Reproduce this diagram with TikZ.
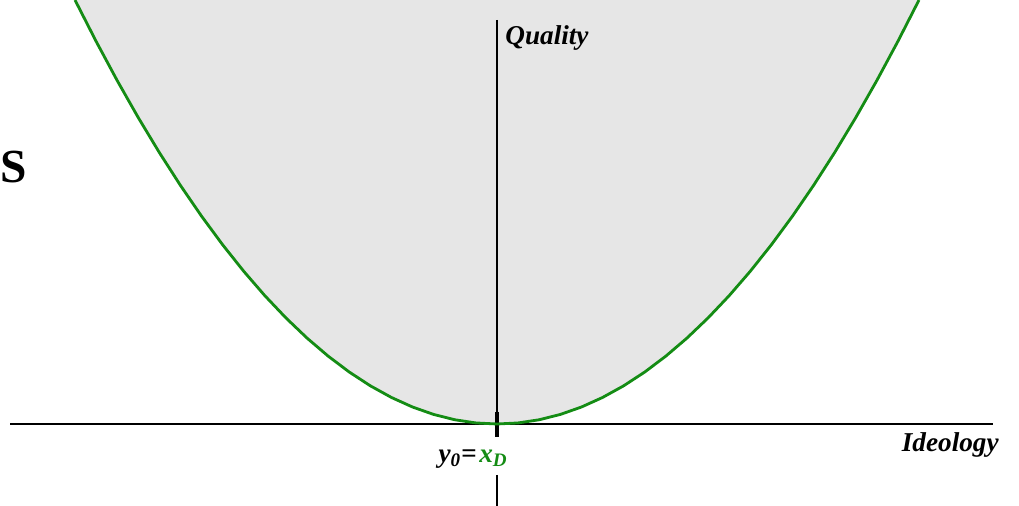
\documentclass[tikz,border=0pt]{standalone}
\usepackage{fontspec}
\setmainfont{Liberation Serif}
\definecolor{curvegreen}{RGB}{20,140,20}
\definecolor{fillgray}{RGB}{230,230,230}
\tikzset{
  axis/.style={line width=0.8pt, black},
  curve/.style={line width=1.6pt, curvegreen},
  lab/.style={font=\fontsize{15.5}{18}\selectfont\bfseries\itshape, inner sep=0pt},
}
\begin{document}
\begin{tikzpicture}[x=0.02cm,y=-0.02cm]
\useasboundingbox (0,0) rectangle (1019,506);
% shaded region
\fill[fillgray] plot[domain=-422:422, samples=41] ({497+\x},{424-424*(\x/422)^2}) -- cycle;
% axes
\coordinate (hl) at (10,424);
\coordinate (hr) at (993,424);
\coordinate (vt) at (497,20);
\coordinate (tt) at (497,412);
\coordinate (tb) at (497,437);
\coordinate (lt) at (497,475);
\coordinate (lb) at (497,506);
\draw[axis] (hl) -- (hr);
\draw[axis] (vt) -- (tt);
\draw[line width=1.8pt] (tt) -- (tb);
\draw[axis] (lt) -- (lb);
% curve
\draw[curve] plot[domain=-422:422, samples=41] ({497+\x},{424-424*(\x/422)^2});
% labels
\node[lab, anchor=base west] (q) at (505,45) {Quality};
\node[lab, anchor=base east] (id) at (999,452) {Ideology};
\node[lab, anchor=base east] (y0) at (477,463) {y\textsubscript{0}=};
\node[lab, anchor=base west, text=curvegreen] (xd) at (479,463) {x\textsubscript{D}};
\node[inner sep=0pt, anchor=base west, font=\fontsize{27}{30}\selectfont\bfseries] (s) at (0,183) {S};
\end{tikzpicture}
\end{document}
